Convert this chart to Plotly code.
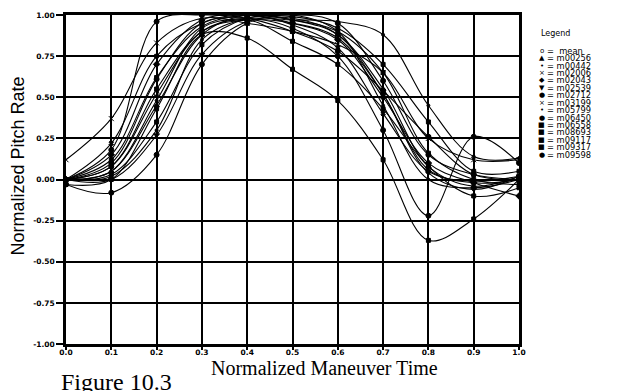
import plotly.graph_objects as go

t = [0.0, 0.1, 0.2, 0.3, 0.4, 0.5, 0.6, 0.7, 0.8, 0.9, 1.0]

names = ["mean", "m00256", "m00442", "m02006", "m02043", "m02539", "m02712",
         "m03199", "m05799", "m06450", "m06558", "m08693", "m09117", "m09317", "m09598"]

mean   = [0.00, 0.08, 0.52, 0.90, 0.97, 0.95, 0.86, 0.52, 0.06, -0.02, 0.00]
m00256 = [0.00, 0.05, 0.45, 0.88, 1.00, 0.97, 0.88, 0.55, 0.08, -0.04, 0.02]
m00442 = [0.00, 0.02, 0.30, 0.85, 0.98, 1.00, 0.90, 0.45, 0.00, -0.05, 0.00]
m02006 = [0.12, 0.37, 0.83, 0.98, 0.95, 0.90, 0.82, 0.65, 0.25, 0.12, 0.12]
m02043 = [0.00, 0.15, 0.70, 0.97, 1.00, 0.95, 0.85, 0.50, 0.10, -0.02, -0.10]
m02539 = [0.00, 0.00, 0.27, 0.76, 0.96, 0.98, 0.88, 0.52, 0.04, -0.06, 0.02]
m02712 = [-0.03, -0.08, 0.15, 0.70, 0.95, 1.00, 0.95, 0.60, 0.15, 0.03, 0.00]
m03199 = [0.00, 0.22, 0.75, 0.95, 1.00, 0.94, 0.80, 0.40, 0.05, -0.01, 0.02]
m05799 = [0.00, 0.05, 0.48, 0.92, 0.98, 0.97, 0.96, 0.88, 0.45, 0.14, 0.13]
m06450 = [0.00, 0.10, 0.61, 0.95, 0.98, 0.92, 0.75, 0.30, -0.22, 0.26, 0.10]
m06558 = [-0.03, 0.00, 0.43, 0.88, 0.86, 0.67, 0.48, 0.12, -0.37, -0.24, 0.00]
m08693 = [0.00, 0.12, 0.62, 0.93, 1.00, 0.97, 0.90, 0.65, 0.16, 0.00, -0.03]
m09117 = [0.00, 0.03, 0.35, 0.82, 0.98, 0.99, 0.92, 0.70, 0.35, 0.05, 0.05]
m09317 = [0.00, 0.08, 0.55, 0.90, 0.97, 0.84, 0.70, 0.43, 0.08, -0.10, -0.05]
m09598 = [0.00, 0.18, 0.96, 1.00, 0.98, 0.90, 0.78, 0.54, 0.26, 0.03, 0.00]

series = [mean, m00256, m00442, m02006, m02043, m02539, m02712, m03199,
          m05799, m06450, m06558, m08693, m09117, m09317, m09598]

symbols = ["circle-open", "triangle-up", "circle", "x-thin-open", "diamond", "triangle-down",
           "circle", "x", "circle", "circle", "square", "square", "square", "square", "circle"]
sizes = [5, 5, 3, 5, 5, 5, 5, 4, 3, 5, 4, 4, 4, 4, 5]
legend_glyphs = ["o", "▲", "•", "×", "◆", "▼", "●", "×", "•", "●", "■", "■", "■", "■", "●"]

xticks = [0.0, 0.1, 0.2, 0.3, 0.4, 0.5, 0.6, 0.7, 0.8, 0.9, 1.0]
xticklabels = ["0.0", "0.1", "0.2", "0.3", "0.4", "0.5", "0.6", "0.7", "0.8", "0.9", "1.0"]
yticks = [-1.0, -0.75, -0.5, -0.25, 0.0, 0.25, 0.5, 0.75, 1.0]
yticklabels = ["-1.00", "-0.75", "-0.50", "-0.25", "0.00", "0.25", "0.50", "0.75", "1.00"]

fig = go.Figure()
for name, vals, sym, sz in zip(names, series, symbols, sizes):
    fig.add_trace(go.Scatter(
        x=t, y=vals, name=name, mode="lines+markers",
        line=dict(color="black", width=1.1, shape="spline", smoothing=1.0),
        marker=dict(symbol=sym, size=sz, color="black",
                    line=dict(color="black", width=1)),
        cliponaxis=True,
    ))

# page offset from default body margin
OFF = 8
W, H = 622 - OFF, 391 - OFF
# plot area in page pixels: x 66..519, y 12..344
PL, PR, PT, PB = 66, 519, 12, 344
L, T = PL - OFF, PT - OFF
R, B = 622 - PR, 391 - PB
pw, ph = PR - PL, PB - PT

def px(x):
    return (x - PL) / pw

def py(y):
    return (PB - y) / ph

annotations = [
    dict(text="Normalized Pitch Rate", x=px(18), y=py(165), xref="paper", yref="paper",
         textangle=-90, showarrow=False, xanchor="center", yanchor="middle",
         font=dict(family="Liberation Sans, Arial", size=18, color="black")),
    dict(text="Normalized Maneuver Time", x=px(324), y=py(368), xref="paper", yref="paper",
         showarrow=False, xanchor="center", yanchor="middle",
         font=dict(family="Liberation Serif, Times New Roman", size=20, color="black")),
    dict(text="Figure 10.3", x=px(59), y=py(382), xref="paper", yref="paper",
         showarrow=False, xanchor="left", yanchor="middle",
         font=dict(family="Liberation Serif, Times New Roman", size=24, color="black")),
    dict(text="Legend", x=px(539), y=py(31), xref="paper", yref="paper",
         showarrow=False, xanchor="left", yanchor="middle",
         font=dict(family="DejaVu Sans", size=8, color="black")),
]
for i, (name, g) in enumerate(zip(names, legend_glyphs)):
    yy = 48 + 7.5 * i
    annotations.append(dict(text=g, x=px(541.5), y=py(yy), xref="paper", yref="paper",
                            showarrow=False, xanchor="center", yanchor="middle",
                            font=dict(family="DejaVu Sans", size=7, color="black")))
    label = "=  " + name if name == "mean" else "= " + name
    annotations.append(dict(text=label, x=px(545), y=py(yy), xref="paper", yref="paper",
                            showarrow=False, xanchor="left", yanchor="middle",
                            font=dict(family="DejaVu Sans", size=8.3, color="black")))

axis_font = dict(family="DejaVu Sans", size=7.5, color="black", weight="bold")

fig.update_layout(
    width=W, height=H,
    margin=dict(l=L, r=R, t=T, b=B, pad=0),
    paper_bgcolor="white", plot_bgcolor="white",
    showlegend=False,
    annotations=annotations,
    xaxis=dict(range=[0, 1], tickmode="array", tickvals=xticks, ticktext=xticklabels,
               showgrid=True, gridcolor="black", gridwidth=1.6,
               showline=True, linecolor="black", linewidth=2.5, mirror=True,
               ticks="outside", ticklen=3, tickwidth=1.6, tickcolor="black",
               ticklabelstandoff=-4,
               tickfont=axis_font, zeroline=False),
    yaxis=dict(range=[-1, 1], tickmode="array", tickvals=yticks, ticktext=yticklabels,
               showgrid=True, gridcolor="black", gridwidth=1.6,
               showline=True, linecolor="black", linewidth=2.5, mirror=True,
               ticks="outside", ticklen=7, tickwidth=1.6, tickcolor="black",
               tickfont=axis_font, zeroline=False),
)

fig.write_html("out.html")
